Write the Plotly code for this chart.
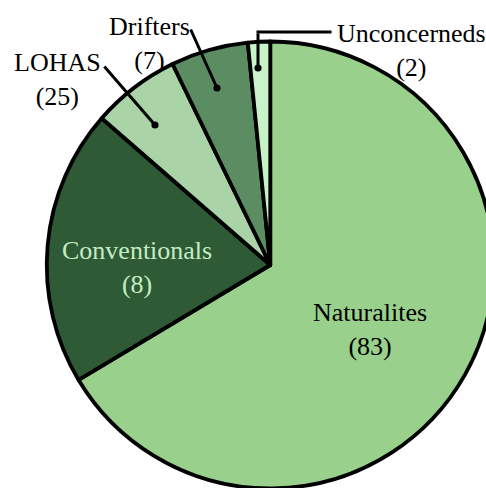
"""
Pie chart of consumer segments
"""

import plotly.graph_objects as go

groups = ["Naturalites", "Conventionals", "LOHAS", "Drifters", "Unconcerneds"]
slice_sizes = [83, 25, 8, 7, 2]
label_counts = [83, 8, 25, 7, 2]
colors = ["#98D08C", "#2E5A36", "#AAD4A8", "#5C8D62", "#C8F2C8"]

# figure a bit bigger than the window so the pie gets cropped right/bottom
W, H = 494, 489
FONT = "Liberation Serif, Times New Roman, serif"


def px(x, y):
    return x / W, 1 - y / H


fig = go.Figure()

fig.add_trace(go.Pie(
    labels=groups,
    values=slice_sizes,
    sort=False,
    direction='clockwise',
    rotation=0,
    textinfo='none',
    hoverinfo='label+value',
    marker=dict(colors=colors, line=dict(color='black', width=3.8)),
    domain=dict(x=[46.5 / W, 1], y=[1 - 488.5 / H, 1 - 41.5 / H]),
))

# label text centres (pixels) and text colours
label_pos = {
    "Naturalites": (370, 329),
    "Conventionals": (137, 267),
    "LOHAS": (57, 80),
    "Drifters": (149, 43),
    "Unconcerneds": (411, 50),
}
label_color = {"Conventionals": "#C5EDC3"}

for name, count in zip(groups, label_counts):
    x, y = px(*label_pos[name])
    fig.add_annotation(
        x=x, y=y, xref='paper', yref='paper',
        text=f"{name}<br>({count})",
        showarrow=False,
        font=dict(family=FONT, size=26, color=label_color.get(name, 'black')),
        xanchor='center', yanchor='middle',
    )

# leader lines: (dot x, dot y, tail x, tail y, dot?)
leaders = [
    (155, 125, 103, 65, True),
    (217, 88, 190, 28, True),
    (258, 68, 258, 32, True),
    (256.5, 32, 333, 32, False),
]
for hx, hy, tx, ty, dot in leaders:
    x, y = px(hx, hy)
    fig.add_annotation(
        x=x, y=y, xref='paper', yref='paper',
        ax=tx - hx, ay=ty - hy,
        text='', showarrow=True,
        arrowhead=6 if dot else 0, arrowsize=0.6,
        arrowwidth=3, arrowcolor='black',
        standoff=0, startstandoff=0,
    )

fig.update_layout(
    width=W,
    height=H,
    margin=dict(l=0, r=0, t=0, b=0),
    showlegend=False,
    paper_bgcolor='white',
)

fig.write_html(
    "out.html",
    config={'displayModeBar': False},
    post_script="document.body.style.margin='0';document.body.style.overflow='hidden';",
)
